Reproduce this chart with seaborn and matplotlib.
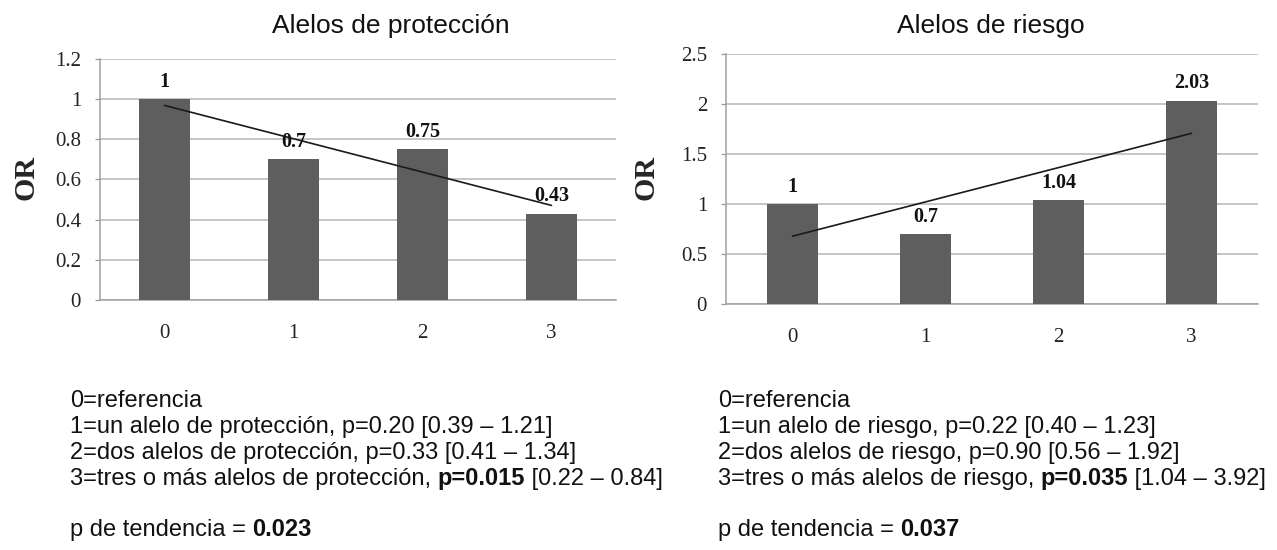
import numpy as np
import pandas as pd
import seaborn as sns
import matplotlib
import matplotlib.pyplot as plt
from matplotlib import ticker

matplotlib.use("Agg")

categories = ["0", "1", "2", "3"]
or_proteccion = [1, 0.7, 0.75, 0.43]
or_riesgo = [1, 0.7, 1.04, 2.03]

notas_proteccion = [
    ("0=referencia", "", ""),
    ("1=un alelo de protección, p=0.20 [0.39 – 1.21]", "", ""),
    ("2=dos alelos de protección, p=0.33 [0.41 – 1.34]", "", ""),
    ("3=tres o más alelos de protección, ", "p=0.015", " [0.22 – 0.84]"),
]
notas_riesgo = [
    ("0=referencia", "", ""),
    ("1=un alelo de riesgo, p=0.22 [0.40 – 1.23]", "", ""),
    ("2=dos alelos de riesgo, p=0.90 [0.56 – 1.92]", "", ""),
    ("3=tres o más alelos de riesgo, ", "p=0.035", " [1.04 – 3.92]"),
]
p_tendencia = ["0.023", "0.037"]

BAR_COLOR = "#5e5e5e"
GRID_COLOR = "#b5b5b5"
SERIF = "Liberation Serif"
SANS = "Liberation Sans"

sns.set_style("white")
plt.rcParams["font.family"] = [SANS, "DejaVu Sans"]

fig = plt.figure(figsize=(12.77, 5.5), dpi=100)
W, H = 1277, 550


def px_axes(x0, y0, x1, y1):
    return fig.add_axes([x0 / W, 1 - y1 / H, (x1 - x0) / W, (y1 - y0) / H])


def draw_panel(ax, values, ymax, ystep, ticklabels):
    df = pd.DataFrame({"cat": categories, "OR": values})
    sns.barplot(data=df, x="cat", y="OR", color=BAR_COLOR, width=0.39,
                saturation=1, ax=ax, zorder=3)
    for p in ax.patches:
        p.set_edgecolor("none")

    # linea de tendencia (minimos cuadrados sobre los OR)
    xs = np.arange(len(values))
    slope, inter = np.polyfit(xs, values, 1)
    ax.plot([xs[0], xs[-1]], [inter, inter + slope * xs[-1]], color="#1a1a1a",
            lw=1.2, zorder=4)

    for i, v in enumerate(values):
        ax.annotate(f"{v:g}", (i, v), xytext=(0, 9), textcoords="offset points",
                    ha="center", va="baseline", fontsize=14.5, fontweight="bold",
                    family=SERIF, color="#111111", zorder=5)

    ax.set_xlim(-0.5, len(values) - 0.5)
    ax.set_ylim(0, ymax)
    yt = np.arange(0, ymax + ystep / 2, ystep)
    ax.set_yticks(yt)
    ax.set_yticklabels(ticklabels, family=SERIF, fontsize=15, color="#222222")
    ax.set_xticks(xs)
    ax.set_xticklabels(categories, family=SERIF, fontsize=15, color="#222222")
    ax.xaxis.set_minor_locator(ticker.FixedLocator(np.arange(-0.5, len(values), 1.0)))
    ax.tick_params(axis="x", which="major", length=0, pad=17)
    ax.tick_params(axis="x", which="minor", length=5, width=0.9, color="#999999",
                   direction="out")
    ax.tick_params(axis="y", which="major", length=3.6, width=0.9, color="#999999",
                   direction="out", pad=10, left=True)
    ax.yaxis.grid(True, color=GRID_COLOR, lw=1.1)
    ax.xaxis.grid(False)
    ax.set_axisbelow(True)
    for s in ["top", "right"]:
        ax.spines[s].set_visible(False)
    for s in ["left", "bottom"]:
        ax.spines[s].set_color("#a0a0a0")
        ax.spines[s].set_linewidth(1.1)
    ax.set_xlabel("")
    ax.set_ylabel("")


ax1 = px_axes(100, 59, 616, 300)
draw_panel(ax1, or_proteccion, 1.2, 0.2, ["0", "0.2", "0.4", "0.6", "0.8", "1", "1.2"])
ax2 = px_axes(726, 54, 1258, 304)
draw_panel(ax2, or_riesgo, 2.5, 0.5, ["0", "0.5", "1", "1.5", "2", "2.5"])

fig.text(391 / W, 1 - 33 / H, "Alelos de protección", ha="center", va="baseline",
         fontsize=19, color="#111111")
fig.text(991 / W, 1 - 33 / H, "Alelos de riesgo", ha="center", va="baseline",
         fontsize=19, color="#111111")
fig.text(26 / W, 1 - 178 / H, "OR", rotation=90, ha="center", va="center",
         fontsize=21.5, fontweight="bold", family=SERIF)
fig.text(646 / W, 1 - 177 / H, "OR", rotation=90, ha="center", va="center",
         fontsize=21.5, fontweight="bold", family=SERIF)

renderer = fig.canvas.get_renderer()
NOTE_FS = 17
line_y = [401, 427, 453, 479]


def write_notes(x0, notas, p_val):
    for (txt, bold, rest), yy in zip(notas, line_y):
        x = x0
        for piece, weight in [(txt, "normal"), (bold, "bold"), (rest, "normal")]:
            if not piece:
                continue
            t = fig.text(x / W, 1 - yy / H, piece, ha="left", va="center",
                         fontsize=NOTE_FS, fontweight=weight, color="#111111")
            x += t.get_window_extent(renderer).width
    x = x0
    for piece, weight in [("p de tendencia = ", "normal"), (p_val, "bold")]:
        t = fig.text(x / W, 1 - 530 / H, piece, ha="left", va="center",
                     fontsize=NOTE_FS, fontweight=weight, color="#111111")
        x += t.get_window_extent(renderer).width


write_notes(70, notas_proteccion, p_tendencia[0])
write_notes(718, notas_riesgo, p_tendencia[1])

fig.savefig("out.png", dpi=100)
